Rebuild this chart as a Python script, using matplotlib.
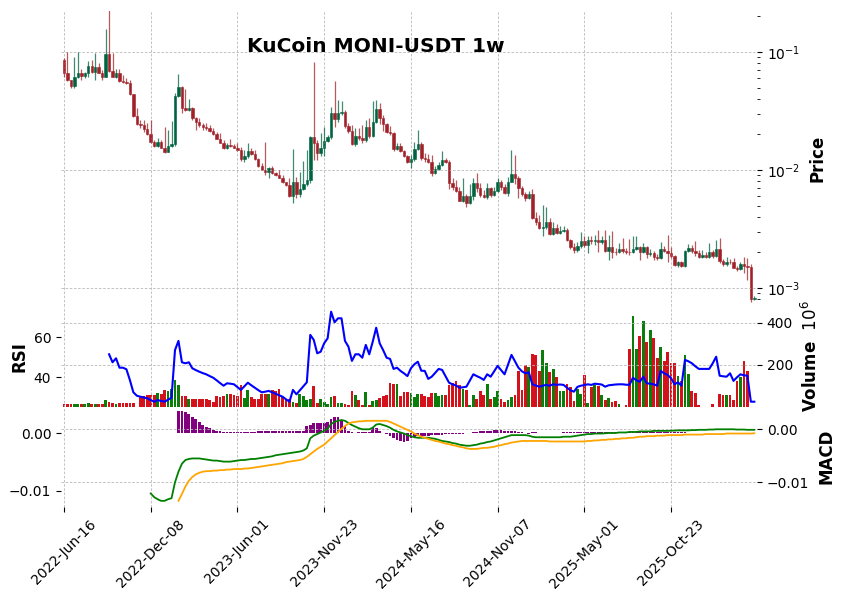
import numpy as np
import pandas as pd
import matplotlib
matplotlib.use("Agg")
import matplotlib.pyplot as plt

# weekly candles, KuCoin MONI-USDT
start_date = "2022-06-16"
first_open = 0.0855

closes = [
    .0668, .0579, .0515, .0614, .0664, .0626, .0664, .0761, .0681, .0746,
    .0668, .0618, .0962, .0694, .0618, .0664, .0568, .0561, .0550, .0438,
    .0287, .0247, .0240, .0222, .0203, .0173, .0161, .0174, .0155, .0143,
    .0160, .0166, .0424, .0508, .0335, .0322, .0337, .0277, .0256, .0240,
    .0233, .0228, .0214, .0202, .0184, .0171, .0153, .0163, .0161, .0155,
    .0148, .0123, .0132, .0146, .0137, .0124, .0109, .0101, .00969, .0103,
    .00939, .00905, .00861, .00785, .00747, .00603, .00787, .00627, .00688, .00757,
    .00826, .0191, .0171, .0140, .0153, .0176, .0189, .0302, .0270, .0302,
    .0310, .0237, .0214, .0166, .0194, .0188, .0180, .0230, .0194, .0255,
    .0326, .0274, .0245, .0211, .0205, .0150, .0160, .0146, .0132, .0118,
    .0123, .0150, .0166, .0126, .0124, .0118, .00939, .0102, .0110, .0121,
    .0118, .00772, .00723, .00669, .00550, .00603, .00529, .00603, .00772, .00700,
    .00615, .00595, .00709, .00615, .00665, .00797, .00723, .00643, .00797, .00925,
    .00851, .00709, .00624, .00577, .00627, .00392, .00366, .00324, .00329, .00361,
    .00286, .00324, .00295, .00305, .00311, .00256, .00224, .00210, .00227, .00248,
    .00232, .00256, .00248, .00256, .00245, .00256, .00207, .00222, .00203, .00200,
    .00213, .00207, .00203, .00202, .00213, .00224, .00203, .00222, .00194, .00199,
    .00182, .00178, .00213, .00207, .00197, .00187, .00157, .00167, .00154, .00207,
    .00217, .00207, .00199, .00184, .00190, .00184, .00200, .00186, .00214, .00169,
    .00159, .00167, .00165, .00149, .00146, .00160, .00154, .00152, .00080, .00082,
]

highs = [
    .0890, .1006, .0579, .0907, .1000, .0717, .0677, .0843, .0855, .0981,
    .0807, .0704, .157, .227, .0987, .0717, .0717, .0639, .0602, .0579,
    .0441, .0335, .0265, .0265, .0248, .0265, .0180, .0186, .0180, .0233,
    .0218, .0262, .0446, .0651, .0515, .0486, .0400, .0345, .0281, .0275,
    .0252, .0248, .0240, .0225, .0209, .0205, .0180, .0169, .0184, .0166,
    .0171, .0157, .0148, .0169, .0154, .0148, .0127, .0115, .0174, .0107,
    .0108, .00969, .0100, .00905, .00797, .00857, .0151, .00879, .00969, .0119,
    .0148, .0195, .0818, .0180, .0205, .0233, .0198, .0340, .0568, .0392,
    .0385, .0322, .0248, .0240, .0227, .0227, .0240, .0265, .0276, .0385,
    .0389, .0370, .0292, .0250, .0235, .0210, .0169, .0169, .0148, .0134,
    .0134, .0173, .0218, .0173, .0140, .0137, .0134, .0108, .0118, .0144,
    .0126, .0121, .00851, .00826, .00719, .00851, .00627, .00761, .00857, .00939,
    .00777, .00678, .00772, .00719, .00719, .00857, .00826, .00761, .00873, .0148,
    .0134, .00890, .00733, .00652, .00665, .00690, .00441, .00416, .00502, .00486,
    .00392, .00363, .00347, .00335, .00335, .00323, .00261, .00241, .00246, .00299,
    .00276, .00276, .00276, .00281, .00311, .00276, .00311, .00281, .00305, .00219,
    .00241, .00266, .00219, .00261, .00276, .00276, .00227, .00241, .00228, .00214,
    .00206, .00194, .00246, .00227, .00281, .00223, .00190, .00170, .00169, .00210,
    .00237, .00230, .00251, .00210, .00210, .00202, .00241, .00210, .00256, .00266,
    .00175, .00183, .00175, .00180, .00154, .00166, .00183, .00180, .00159, .00086,
]

lows = [
    .0614, .0568, .0500, .0496, .0602, .0579, .0602, .0614, .0660, .0579,
    .0660, .0579, .0614, .0677, .0610, .0602, .0557, .0551, .0535, .0433,
    .0284, .0240, .0227, .0211, .0198, .0171, .0158, .0158, .0153, .0140,
    .0141, .0158, .0160, .0416, .0302, .0316, .0316, .0265, .0220, .0233,
    .0220, .0218, .0209, .0198, .0182, .0169, .0150, .0150, .0158, .0153,
    .0145, .0120, .0117, .0126, .0134, .0121, .0107, .0100, .00905, .00851,
    .00925, .00890, .00851, .00777, .00733, .00595, .00526, .00577, .00591, .00678,
    .00733, .00780, .0121, .0121, .0132, .0132, .0173, .0184, .0233, .0255,
    .0292, .0225, .0207, .0163, .0160, .0180, .0171, .0173, .0186, .0190,
    .0250, .0245, .0215, .0205, .0198, .0145, .0147, .0142, .0129, .0115,
    .0104, .0119, .0148, .0121, .0118, .0115, .00890, .00920, .0100, .0108,
    .0115, .00688, .00678, .00652, .00543, .00536, .00486, .00516, .00556, .00652,
    .00591, .00577, .00568, .00591, .00603, .00652, .00678, .00627, .00603, .00792,
    .00761, .00580, .00603, .00546, .00568, .00385, .00342, .00317, .00276, .00317,
    .00281, .00281, .00287, .00287, .00299, .00251, .00216, .00198, .00202, .00219,
    .00223, .00198, .00237, .00232, .00202, .00237, .00202, .00172, .00180, .00190,
    .00198, .00198, .00194, .00190, .00198, .00210, .00172, .00198, .00180, .00187,
    .00172, .00172, .00176, .00202, .00166, .00180, .00154, .00151, .00151, .00151,
    .00202, .00198, .00187, .00180, .00180, .00180, .00180, .00180, .00182, .00162,
    .00154, .00154, .00159, .00148, .00140, .00143, .00134, .00117, .00076, .00079,
]

# volume in millions
volume = [
    14, 14, 14, 14, 14, 10, 10, 19, 14, 14,
    14, 14, 29, 22, 19, 10, 19, 19, 16, 19,
    19, 0, 48, 50, 53, 56, 56, 64, 62, 77,
    72, 85, 125, 101, 48, 48, 34, 35, 35, 34,
    34, 34, 29, 21, 48, 45, 50, 58, 58, 53,
    51, 101, 42, 77, 43, 34, 34, 61, 61, 61,
    77, 72, 82, 45, 34, 34, 21, 18, 58, 50,
    29, 37, 96, 18, 37, 21, 13, 45, 48, 18,
    18, 13, 5, 72, 56, 29, 5, 67, 5, 24,
    29, 40, 50, 53, 113, 106, 106, 50, 69, 69,
    66, 45, 61, 61, 48, 45, 66, 66, 48, 56,
    53, 101, 114, 120, 101, 85, 77, 5, 56, 37,
    72, 56, 109, 37, 45, 72, 37, 21, 32, 45,
    53, 168, 77, 197, 189, 253, 245, 168, 269, 210,
    165, 178, 141, 72, 72, 109, 93, 24, 85, 61,
    149, 18, 93, 101, 96, 56, 32, 40, 21, 24,
    10, 0, 5, 274, 433, 274, 337, 408, 309, 365,
    328, 232, 285, 216, 261, 210, 210, 146, 120, 245,
    157, 72, 66, 5, 0, 0, 0, 10, 0, 58,
    56, 56, 53, 29, 120, 141, 216, 168, 0, 0,
]

# RSI, first value at week 13
rsi_start = 13
rsi_vals = [
    51.5, 47.5, 49.5, 44.8, 44.8, 44.0, 38.6, 32.5, 30.8, 30.3,
    29.9, 29.5, 28.6, 27.8, 28.6, 28.2, 27.8, 28.8, 29.8, 53.6,
    58.2, 47.5, 47.0, 47.5, 44.5, 43.6, 42.8, 42.1, 41.5, 40.6,
    39.8, 38.5, 37.1, 35.8, 37.0, 36.8, 36.5, 35.1, 33.7, 35.5,
    37.3, 36.0, 34.8, 33.6, 32.5, 32.8, 33.2, 32.5, 31.8, 31.0,
    30.3, 29.0, 27.8, 33.7, 31.5, 33.5, 35.5, 37.5, 61.2, 58.7,
    52.0, 52.8, 57.0, 59.5, 72.8, 67.5, 69.5, 69.5, 58.2, 55.3,
    48.2, 51.5, 51.5, 49.8, 56.2, 51.5, 57.8, 64.8, 57.0, 53.6,
    49.8, 49.2, 44.2, 44.8, 43.2, 42.0, 40.6, 44.5, 46.5, 47.8,
    43.3, 43.2, 39.2, 40.3, 42.2, 44.2, 43.7, 40.5, 37.3, 36.5,
    35.9, 34.8, 35.0, 35.3, 38.4, 41.5, 40.6, 39.8, 38.7, 41.5,
    40.3, 43.0, 45.7, 43.6, 41.5, 46.3, 51.2, 48.0, 44.8, 43.0,
    42.0, 42.5, 36.5, 35.9, 35.3, 35.8, 36.2, 35.8, 36.5, 36.2,
    36.4, 36.2, 34.8, 33.5, 32.8, 35.2, 35.8, 36.1, 36.5, 36.2,
    36.8, 36.6, 36.4, 35.3, 36.0, 36.2, 36.4, 36.5, 36.5, 36.3,
    36.2, 39.8, 38.5, 37.8, 40.3, 37.0, 36.8, 36.5, 35.8, 43.2,
    42.0, 41.2, 39.5, 36.5, 37.5, 35.8, 48.7, 48.0, 47.0, 45.5,
    44.2, 44.2, 44.2, 44.2, 47.0, 50.3, 40.8, 40.5, 40.3, 42.0,
    38.2, 40.0, 41.5, 41.0, 40.8, 27.8, 27.8,
]

# MACD line from week 25, signal and histogram from week 33
macd_start = 25
macd_vals = [
    -.0121, -.0128, -.0132, -.0135, -.0135, -.0132, -.0130, -.0100, -.0080, -.0065,
    -.0058, -.0056, -.0055, -.0055, -.0055, -.0056, -.0057, -.0058, -.0059, -.0059,
    -.0060, -.0061, -.0061, -.0061, -.0060, -.0059, -.0058, -.0058, -.0057, -.0056,
    -.0056, -.0055, -.0054, -.0053, -.0052, -.0051, -.0049, -.0048, -.0047, -.0046,
    -.0045, -.0044, -.0043, -.0042, -.0040, -.0036, -.0017, -.0012, -.0009, -.0006,
    -.0003, .0001, .0010, .0014, .0016, .00175, .0016, .0012, .0008, .0005,
    .0002, .0000, .0000, .0000, .0003, .0009, .0010, .0008, .0006, .0003,
    -.0001, -.0004, -.0006, -.0008, -.0011, -.0013, -.0015, -.0016, -.0016, -.0016,
    -.0016, -.0017, -.0018, -.0020, -.0022, -.0023, -.0024, -.0026, -.0027, -.0029,
    -.0030, -.0031, -.0031, -.0030, -.0029, -.0027, -.0026, -.0024, -.0023, -.0021,
    -.0019, -.0017, -.0015, -.0013, -.0011, -.0011, -.0011, -.0011, -.0011, -.0012,
    -.0014, -.0015, -.0015, -.0015, -.0015, -.0015, -.0015, -.0015, -.0015, -.0014,
    -.0014, -.0014, -.0013, -.0012, -.0011, -.0010, -.0009, -.0009, -.0008, -.0008,
    -.0008, -.00075, -.0007, -.0007, -.0007, -.0006, -.0006, -.0006, -.0005, -.0005,
    -.0005, -.0004, -.0004, -.0004, -.0004, -.0003, -.0003, -.0003, -.0003, -.0003,
    -.00026, -.00025, -.0002, -.0002, -.0002, -.0002, -.00015, -.00015, -.0001, -.0001,
    -.0001, -.00005, -.00005, .0, .0, .0, .0, .0, .0, -.00005,
    -.00005, -.00005, -.0001, -.0001, -.0001,
]

signal_start = 33
signal_vals = [
    -.0135, -.0122, -.0108, -.0097, -.0090, -.0085, -.0082, -.0080, -.0079, -.0079,
    -.0078, -.0078, -.0077, -.0077, -.0076, -.0076, -.0075, -.0075, -.0075, -.0074,
    -.0074, -.0073, -.0072, -.0071, -.0070, -.0069, -.0068, -.0067, -.0066, -.0065,
    -.0064, -.0062, -.0061, -.0060, -.0059, -.0058, -.0056, -.0052, -.0047, -.0042,
    -.0037, -.0033, -.0029, -.0023, -.0017, -.0011, -.0005, .0001, .0006, .0011,
    .0013, .0014, .0015, .0015, .0016, .0016, .0016, .0016, .0016, .0016,
    .0016, .0014, .0011, .0008, .0005, .0002, -.0001, -.0004, -.0008, -.0011,
    -.0014, -.0016, -.0018, -.0020, -.0022, -.0023, -.0025, -.0027, -.0028, -.0030,
    -.0031, -.0033, -.0034, -.0036, -.0037, -.0037, -.0037, -.0036, -.0035, -.0035,
    -.0034, -.0033, -.0031, -.0030, -.0028, -.0027, -.0025, -.0024, -.0023, -.0022,
    -.0022, -.0022, -.0022, -.0022, -.0022, -.0022, -.0022, -.0023, -.0023, -.0023,
    -.0023, -.0023, -.0023, -.0023, -.0023, -.0023, -.0023, -.0023, -.0022, -.0022,
    -.0021, -.0021, -.0020, -.0020, -.0019, -.0019, -.0018, -.0018, -.0017, -.0017,
    -.0016, -.0016, -.0015, -.0014, -.0014, -.0013, -.0013, -.0013, -.0012, -.0012,
    -.0012, -.0011, -.0011, -.0011, -.0011, -.0011, -.0010, -.0010, -.0010, -.0010,
    -.0010, -.0010, -.0009, -.0009, -.0009, -.0009, -.0009, -.0009, -.0008, -.0008,
    -.0008, -.0008, -.0008, -.0008, -.0008, -.0008, -.00075,
]

hist_vals = [
    .0038, .0038, .0036, .0032, .0027, .0024, .0019, .0014, .0011, .0008,
    .0005, .0004, .0003, .0002, .0001, .0001, .0002, .0002, .0001, .0001,
    .0002, .0002, .0002, .0003, .0003, .0003, .0003, .0003, .0003, .0003,
    .0003, .0003, .0003, .0003, .0003, .0004, .0004, .0012, .0013, .0017,
    .0018, .0018, .0018, .0019, .0025, .0028, .0027, .0020, .0012, .0003,
    .0001, .0000, .0001, .0002, .0002, .0002, .0008, .0008, .0003, .0000,
    -.0002, -.0006, -.0009, -.0012, -.0014, -.0015, -.0014, -.0009, -.0007, -.0006,
    -.0006, -.0005, -.0005, -.0004, -.0004, -.0003, -.0003, -.0002, -.0002, -.0002,
    -.0002, -.0001, -.0001, .0000, .0000, .0001, .0002, .0003, .0003, .0004,
    .0004, .0005, .0005, .0005, .0004, .0004, .0003, .0003, .0002, .0001,
    .0000, -.0001, .0001, .0001, .00005, .0, .00005, .0, .00005, .0,
    .00005, .0001, .0001, .00015, .0001, .0001, .00015, .0001, .0001, .0001,
    .00015, .0001, .0001, .0001, .00015, .0001, .0001, .0001, .00015, .0001,
    .0001, .0001, .00015, .0001, .0001, .0001, .0001, .00015, .0001, .0001,
    .0001, .0001, .0001, .00015, .0001, .0001, .0001, .00005, .0, .0,
    .0, .0, .0, .0, .0, .0, .0, .0, .0, .0,
    .0, .0, .0, .0, .0, .0, .0,
]

N = len(closes)
x = np.arange(N)
closes = np.array(closes)
highs = np.array(highs)
lows = np.array(lows)
volume = np.array(volume, dtype=float)
opens = np.r_[first_open, closes[:-1]]
dates = pd.date_range(start_date, periods=N, freq="7D")


def padded(start, vals):
    out = np.full(N, np.nan)
    out[start:start + len(vals)] = vals
    return out


rsi = padded(rsi_start, rsi_vals)
macd = padded(macd_start, macd_vals)
signal = padded(signal_start, signal_vals)
hist = padded(signal_start, hist_vals)

up = closes >= opens
up_c, dn_c = "#006340", "#a02128"
body_cols = np.where(up, up_c, dn_c)
vol_cols = np.where(up, "#0a7d0a", "#d3121c")

grid_kw = dict(color="#b8b8b8", linestyle=(0, (3, 2)), linewidth=0.6)

fig = plt.figure(figsize=(8.42, 6), dpi=100)
L, W = 61 / 842, 696 / 842
ax_p = fig.add_axes([L, 1 - 306 / 600, W, 295 / 600])
ax_v = fig.add_axes([L, 1 - 406.5 / 600, W, 100.5 / 600], sharex=ax_p)
ax_h = fig.add_axes([L, 1 - 507 / 600, W, 100.5 / 600], sharex=ax_p)
ax_r = ax_v.twinx()   # RSI on the left of the volume panel
ax_m = ax_h.twinx()   # MACD lines on the right of the bottom panel

# ---- price panel
ax_p.set_yscale("log")
ax_p.vlines(x, lows, highs, colors=body_cols, linewidth=0.9, alpha=0.75)
ax_p.bar(x, np.maximum(opens, closes) - np.minimum(opens, closes),
         bottom=np.minimum(opens, closes), width=0.7,
         color=body_cols, edgecolor=body_cols, linewidth=0.4)
ax_p.set_ylim(0.000704, 0.2226)
ax_p.yaxis.tick_right()
ax_p.yaxis.set_label_position("right")
ax_p.set_ylabel("Price", fontsize=12, fontweight="bold", labelpad=6)
ax_p.grid(True, which="major", **grid_kw)

# ---- volume + RSI panel
ax_v.bar(x, volume, width=0.8, color=vol_cols)
ax_v.set_ylim(0, 480)
ax_v.set_yticks([200, 400])
ax_v.grid(True, **grid_kw)
ax_v.yaxis.tick_right()
ax_v.yaxis.set_label_position("right")
ax_v.set_ylabel("Volume  $10^{6}$", fontsize=12, fontweight="bold", labelpad=6)

ax_r.plot(x, rsi, color="blue", linewidth=1.5)
ax_r.set_ylim(25.4, 75.65)
ax_r.set_yticks([40, 60])
ax_r.yaxis.tick_left()
ax_r.yaxis.set_label_position("left")
ax_r.set_ylabel("RSI", fontsize=12, fontweight="bold")

# ---- MACD panel
ax_h.bar(x, hist, width=0.8, color="purple")
ax_h.set_ylim(-0.01276, 0.00457)
ax_h.set_yticks([-0.01, 0.0])
ax_h.grid(True, axis="x", **grid_kw)
ax_h.yaxis.tick_left()

ax_m.plot(x, macd, color="green", linewidth=1.3)
ax_m.plot(x, signal, color="orange", linewidth=1.3)
ax_m.set_ylim(-0.01466, 0.0043)
ax_m.set_yticks([-0.01, 0.0])
ax_m.grid(True, axis="y", **grid_kw)
ax_m.yaxis.tick_right()
ax_m.yaxis.set_label_position("right")
ax_m.set_ylabel("MACD", fontsize=12, fontweight="bold", labelpad=6)

# ---- shared x axis
tick_pos = list(range(0, N, 25))
ax_p.set_xlim(-0.86, 199.77)
ax_h.set_xticks(tick_pos)
ax_h.set_xticklabels([dates[i].strftime("%Y-%b-%d") for i in tick_pos],
                     rotation=45, ha="center")

for ax in (ax_p, ax_v, ax_r, ax_h, ax_m):
    for s in ax.spines.values():
        s.set_visible(False)
    ax.tick_params(labelsize=10, direction="out", length=3.5)
for ax in (ax_p, ax_v, ax_r, ax_m):
    ax.tick_params(axis="x", length=0, labelbottom=False)

fig.text(0.4466, 0.9217, "KuCoin MONI-USDT 1w", fontsize=14.5,
         fontweight="bold", ha="center", va="center")

fig.savefig("out.png", dpi=100)
